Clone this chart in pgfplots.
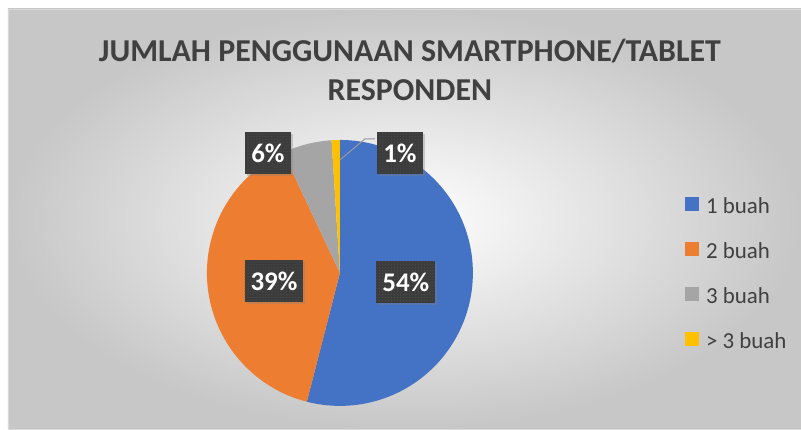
\documentclass[border=0pt]{standalone}
\usepackage{fontspec}
\setmainfont{Carlito}
\usepackage{pgfplots}
\pgfplotsset{compat=1.18}
\usepackage{pgfplotstable}
\usetikzlibrary{patterns,shadows}

\definecolor{c1}{HTML}{4472C4}
\definecolor{c2}{HTML}{ED7D31}
\definecolor{c3}{HTML}{A5A5A5}
\definecolor{c4}{HTML}{FFC000}
\definecolor{txt}{HTML}{404040}
\definecolor{lbl}{HTML}{3C3C3C}

% share (%), slice colour, label centre (pixel coords, y from top)
\pgfplotstableread{
value color lx ly
54 c1 406 282
39 c2 274 281
6  c3 268 153
1  c4 400 153
}\piedata

\pgfplotsset{
  pie legend/.style={legend image code/.code={\fill[##1, draw=none] (0bp,-6bp) rectangle (14bp,8bp);}},
}

\begin{document}
\begin{tikzpicture}
\begin{axis}[
    width=801bp, height=429bp, scale only axis,
    xmin=0, xmax=801, ymin=0, ymax=429,
    hide axis, clip=false,
    legend style={at={(axis cs:682,234)}, anchor=north west, draw=none, fill=none,
        font=\fontsize{23}{27}\selectfont, text=txt, row sep=29bp, column sep=7bp,
        nodes={inner sep=0pt, text height=16bp, text depth=0bp}},
    legend cell align=left,
]
% chart area
\path (axis cs:0,0) rectangle (axis cs:801,429);
\shade[inner color=white, outer color=black!22, draw=black!15]
    (axis cs:8,0) rectangle (axis cs:801,420);

% slices, clockwise from 12 o'clock
\def\cum{0}
\pgfplotsforeachungrouped \i in {0,...,3}{%
  \pgfplotstablegetelem{\i}{value}\of\piedata \let\v\pgfplotsretval
  \pgfplotstablegetelem{\i}{color}\of\piedata \let\c\pgfplotsretval
  \pgfmathsetmacro\sa{90-3.6*\cum}
  \pgfmathsetmacro\ea{90-3.6*(\cum+\v)}
  \edef\temp{\noexpand\fill[\c] (axis cs:340,156) -- ([shift={(\sa:133bp)}]axis cs:340,156)
     arc[start angle=\sa, end angle=\ea, radius=133bp] -- cycle;}
  \temp
  \pgfmathsetmacro\cum{\cum+\v}
}

% leader line for the small slice
\draw[black!40, line width=1pt] (axis cs:340,269) -- (axis cs:365,290) -- (axis cs:375,290);

% data labels
\pgfplotsforeachungrouped \i in {0,...,3}{%
  \pgfplotstablegetelem{\i}{value}\of\piedata \let\v\pgfplotsretval
  \pgfplotstablegetelem{\i}{lx}\of\piedata \let\lx\pgfplotsretval
  \pgfplotstablegetelem{\i}{ly}\of\piedata \let\ly\pgfplotsretval
  \pgfmathsetmacro\yy{429-\ly}
  \edef\temp{\noexpand\node[fill=lbl, text=white, inner xsep=6bp, minimum height=42bp,
      font=\noexpand\bfseries\noexpand\fontsize{27}{30}\noexpand\selectfont,
      drop shadow={shadow xshift=2bp, shadow yshift=-2bp, opacity=0.35},
      postaction={pattern=dots, pattern color=white!12!lbl}]
      at (axis cs:\lx,\yy) {\v\noexpand\%};}
  \temp
}

% title
\node[font=\bfseries\fontsize{32}{40}\selectfont, text=txt, align=center]
    at (axis cs:410,359) {JUMLAH PENGGUNAAN SMARTPHONE/TABLET\\RESPONDEN};

\addlegendimage{pie legend, fill=c1}
\addlegendimage{pie legend, fill=c2}
\addlegendimage{pie legend, fill=c3}
\addlegendimage{pie legend, fill=c4}
\legend{1 buah, 2 buah, 3 buah, > 3 buah}
\end{axis}
\end{tikzpicture}
\end{document}
